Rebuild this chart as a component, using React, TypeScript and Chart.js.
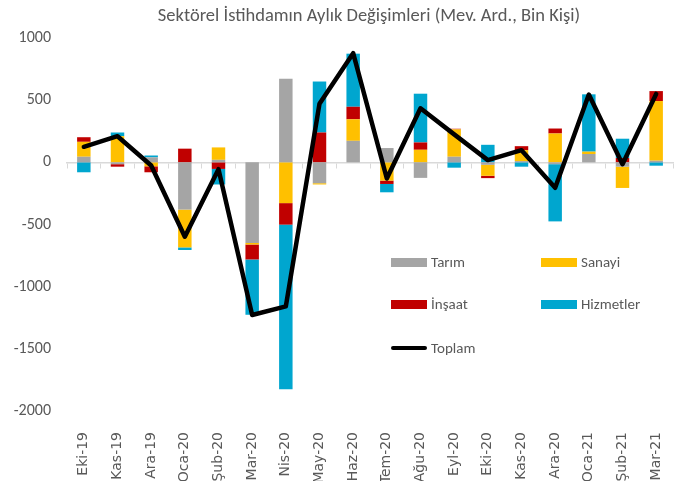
import { useEffect, useRef } from 'react';
import { Chart, registerables } from 'chart.js';

Chart.register(...registerables);

const categories = ['Eki-19', 'Kas-19', 'Ara-19', 'Oca-20', 'Şub-20', 'Mar-20', 'Nis-20', 'May-20', 'Haz-20', 'Tem-20', 'Ağu-20', 'Eyl-20', 'Eki-20', 'Kas-20', 'Ara-20', 'Oca-21', 'Şub-21', 'Mar-21'];
const tarim = [45, -15, 40, -380, 20, -648, 672, -168, 173, 115, -125, 45, -20, 10, -15, 67, -35, 13];
const sanayi = [120, 210, -32, -304, 100, -13, -328, -10, 173, -147, 101, 220, -88, 88, 232, 19, -171, 480];
const insaat = [37, -20, -48, 110, -53, -120, -173, 240, 101, -27, 59, 5, -19, 32, 40, 0, 35, 80];
const hizmetler = [-80, 30, 15, -21, -125, -445, -1325, 410, 427, -67, 392, -43, 141, -35, -460, 461, 155, -27];
const toplam = [125, 210, -25, -598, -55, -1228, -1158, 472, 878, -130, 435, 225, 18, 98, -205, 545, -15, 550];

const NARROW = "'Liberation Sans Narrow', Carlito, 'Open Sans', sans-serif";
const TEXT = '#595959';
const COLORS = { tarim: '#A5A5A5', sanayi: '#FFC000', insaat: '#C00000', hizmetler: '#00A6CF' };

function LegendItem({ left, cy, color, label, line }: { left: number; cy: number; color: string; label: string; line?: boolean }) {
  return (
    <div style={{ position: 'absolute', left, top: cy - 11, height: 22, display: 'flex', alignItems: 'center', gap: 4, font: `15px ${NARROW}`, color: TEXT, whiteSpace: 'nowrap' }}>
      <div style={{ width: 36, height: line ? 4.5 : 9, background: color, borderRadius: line ? 3 : 0 }} />
      <span>{label}</span>
    </div>
  );
}

export default function App() {
  const ref = useRef<HTMLCanvasElement>(null);
  useEffect(() => {
    document.body.style.margin = '0';
    const chart = new Chart(ref.current!, {
      type: 'bar',
      data: {
        labels: categories,
        datasets: [
          { type: 'line', label: 'Toplam', data: toplam, borderColor: '#000000', backgroundColor: '#000000', borderWidth: 4.5, pointRadius: 0, stack: 'total', order: 0, tension: 0, borderJoinStyle: 'round', borderCapStyle: 'round' } as any,
          { label: 'Tarım', data: tarim, backgroundColor: COLORS.tarim, stack: 's', order: 1 },
          { label: 'Sanayi', data: sanayi, backgroundColor: COLORS.sanayi, stack: 's', order: 1 },
          { label: 'İnşaat', data: insaat, backgroundColor: COLORS.insaat, stack: 's', order: 1 },
          { label: 'Hizmetler', data: hizmetler, backgroundColor: COLORS.hizmetler, stack: 's', order: 1 },
        ],
      },
      options: {
        responsive: false,
        animation: false,
        layout: { padding: { left: 0, right: 19, top: 38, bottom: 0 } },
        datasets: { bar: { barPercentage: 0.4, categoryPercentage: 1 } },
        plugins: { legend: { display: false }, tooltip: { enabled: false }, title: { display: false } },
        scales: {
          x: {
            stacked: true,
            grid: { display: false },
            border: { display: false },
            ticks: { maxRotation: 90, minRotation: 90, padding: 13, color: TEXT, font: { family: 'DejaVu Sans', size: 14 } },
            afterFit: (s: any) => { s.height = 70; },
          },
          x2: {
            type: 'category',
            labels: categories,
            position: { y: 0 },
            offset: true,
            grid: { display: true, offset: true, drawOnChartArea: false, drawTicks: true, tickLength: 5, color: '#D9D9D9', lineWidth: 1 },
            border: { display: true, color: '#D9D9D9', width: 1.5 },
            ticks: { display: false },
          },
          y: {
            stacked: true,
            min: -2000,
            max: 1000,
            ticks: { stepSize: 500, padding: 8, color: TEXT, font: { family: NARROW, size: 16 }, callback: (v: any) => String(v) },
            grid: { display: false },
            border: { display: false },
            afterFit: (s: any) => { s.width = 67; },
          },
        } as any,
      },
    });
    return () => chart.destroy();
  }, []);
  return (
    <div style={{ position: 'relative', width: 692, height: 481 }}>
      <canvas ref={ref} width={692} height={481} style={{ display: 'block' }} />
      <div style={{ position: 'absolute', left: 69, width: 600, top: 3, height: 24, lineHeight: '24px', textAlign: 'center', font: `18.5px ${NARROW}`, color: TEXT }}>
        Sektörel İstihdamın Aylık Değişimleri (Mev. Ard., Bin Kişi)
      </div>
      <LegendItem left={391} cy={262} color={COLORS.tarim} label="Tarım" />
      <LegendItem left={541} cy={262} color={COLORS.sanayi} label="Sanayi" />
      <LegendItem left={391} cy={304} color={COLORS.insaat} label="İnşaat" />
      <LegendItem left={541} cy={304} color={COLORS.hizmetler} label="Hizmetler" />
      <LegendItem left={391} cy={348} color="#000000" label="Toplam" line />
    </div>
  );
}
